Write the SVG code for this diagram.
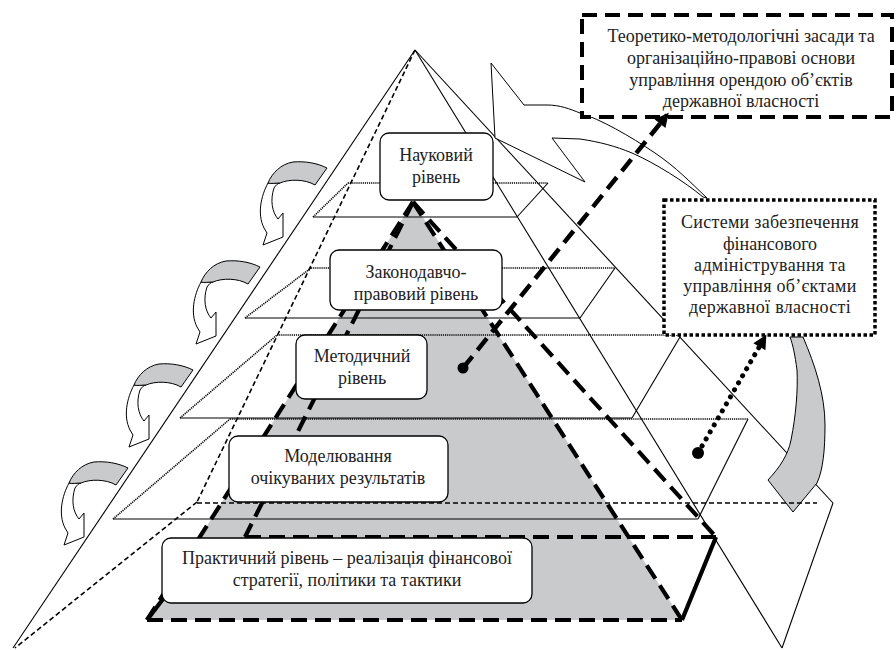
<svg xmlns="http://www.w3.org/2000/svg" xmlns:xlink="http://www.w3.org/1999/xlink" width="896" height="650" viewBox="0 0 896 650">
<style>
.thin{stroke:#000;stroke-width:1.1;fill:none}
.dot{stroke:#000;stroke-width:1.6;stroke-dasharray:1.2 0.9;fill:none}
.hid{stroke:#000;stroke-width:1.6;stroke-dasharray:5 3;fill:none}
.thick{stroke:#000;stroke-width:4.2;stroke-dasharray:16 8;fill:none}
.thicks{stroke:#000;stroke-width:4.2;fill:none}
.box{fill:#fff;stroke:#000;stroke-width:1.3}
.t{font-family:"Liberation Serif","Times New Roman",serif;font-size:18px;fill:#222;text-anchor:middle}
.gray{fill:#c9cacc;stroke:#000;stroke-width:1}
.white{fill:#fff;stroke:#000;stroke-width:1}
</style>
<defs>
<marker id="ah" viewBox="0 0 10 10" refX="8" refY="5" markerUnits="userSpaceOnUse" markerWidth="16" markerHeight="14" orient="auto">
<path d="M0,0 L10,5 L0,10 Z" fill="#000"/>
</marker>
<g id="curl">
<path class="white" d="M-59,15 C-66,28 -70,46 -63,60 L-60,65 L-64,77 L-44,69 L-44,45 L-49,51 C-55,44 -57,32 -53,20 C-51,17 -49,15 -47,15 Z"/>
<path class="gray" d="M0,0 C-10,-5 -22,-7 -34,-6 C-46,-4 -55,5 -59,15 C-56,16 -51,15 -47,15 C-38,11 -22,11 -12,17 Z"/>
</g>
</defs>
<rect width="896" height="650" fill="#fff"/>

<g id="inner-pyramid-fill">
<polygon points="413,202 147,620 682,620" fill="#c9cacc"/>
</g>

<g id="wireframe">
<line class="thin" x1="415" y1="50" x2="13" y2="648"/>
<line class="thin" x1="415" y1="50" x2="782" y2="648"/>
<line class="thin" x1="415" y1="50" x2="833" y2="503"/>
<line class="hid" x1="415" y1="50" x2="197" y2="502"/>
<line class="hid" x1="197" y1="502" x2="15" y2="648"/>
<line class="thin" x1="833" y1="503" x2="782" y2="648"/>
<line class="thin" x1="313" y1="217" x2="517" y2="217"/>
<line class="dot" x1="348" y1="183" x2="548" y2="183"/>
<line class="dot" x1="313" y1="217" x2="348" y2="183"/>
<line class="thin" x1="548" y1="183" x2="517" y2="217"/>
<line class="thin" x1="245" y1="318" x2="580" y2="318"/>
<line class="dot" x1="311" y1="268" x2="615" y2="268"/>
<line class="dot" x1="245" y1="318" x2="311" y2="268"/>
<line class="thin" x1="615" y1="268" x2="580" y2="318"/>
<line class="thin" x1="180" y1="418" x2="632" y2="418"/>
<line class="dot" x1="277" y1="335" x2="680" y2="335"/>
<line class="dot" x1="180" y1="418" x2="277" y2="335"/>
<line class="thin" x1="680" y1="337" x2="632" y2="418"/>
<line class="thin" x1="113" y1="519" x2="698" y2="519"/>
<line class="dot" x1="230" y1="419" x2="748" y2="419"/>
<line class="dot" x1="113" y1="519" x2="230" y2="419"/>
<line class="thin" x1="748" y1="419" x2="698" y2="519"/>
</g>

<g id="inner-pyramid-edges">
<line class="thick" x1="413" y1="202" x2="147" y2="620"/>
<line class="thick" x1="413" y1="202" x2="682" y2="620"/>
<line class="thick" x1="147" y1="620" x2="682" y2="620"/>
<line class="thick" x1="413" y1="202" x2="245" y2="537"/>
<line class="thick" x1="413" y1="202" x2="716" y2="537"/>
<line class="thick" x1="245" y1="537" x2="716" y2="537"/>
<line class="thicks" x1="682" y1="620" x2="716" y2="537"/>
<line class="thicks" x1="147" y1="620" x2="163" y2="599"/>
</g>

<g id="level-science">
<rect class="box" x="380" y="133" width="113" height="67" rx="9"/>
<text class="t" x="436" y="161">Науковий</text>
<text class="t" x="436" y="183">рівень</text>
</g>
<g id="level-legal">
<rect class="box" x="330" y="250" width="172" height="60" rx="9"/>
<text class="t" x="416" y="278">Законодавчо-</text>
<text class="t" x="416" y="300">правовий рівень</text>
</g>
<g id="level-method">
<rect class="box" x="296" y="335" width="131" height="64" rx="9"/>
<text class="t" x="362" y="362">Методичний</text>
<text class="t" x="362" y="384">рівень</text>
</g>
<g id="level-model">
<rect class="box" x="229" y="436" width="219" height="66" rx="9"/>
<text class="t" x="338" y="462">Моделювання</text>
<text class="t" x="338" y="484">очікуваних результатів</text>
</g>
<g id="level-practice">
<rect class="box" x="162" y="538" width="370" height="65" rx="9"/>
<text class="t" x="347" y="564">Практичний рівень – реалізація фінансової</text>
<text class="t" x="347" y="586">стратегії, політики та тактики</text>
</g>

<g id="curls">
<use xlink:href="#curl" transform="translate(327,168)"/>
<use xlink:href="#curl" transform="translate(260,267)"/>
<use xlink:href="#curl" transform="translate(193,370)"/>
<use xlink:href="#curl" transform="translate(128,468)"/>
</g>

<g id="big-arrow">
<path class="white" d="M707,198 C690,182 677,168 655,153 C630,136 600,119 580,113 C570,109 560,105 547,105 L524,105 L491,63 L495,138 L585,182 L552,138 L580,139 C600,142 615,146 632,153 C655,163 685,182 703,197 Z"/>
</g>

<g id="side-arrow">
<path class="gray" d="M790,337 L803,337 C815,365 825,395 825,425 C825,450 823,470 817,483 L793,512 L768,480 C780,467 788,455 791,440 C796,415 798,390 797,370 C795,355 793,345 790,337 Z"/>
</g>

<line class="hid" x1="197" y1="503" x2="817" y2="503"/>

<g id="theory-box">
<rect x="582" y="15" width="310" height="102" fill="#fff" stroke="#000" stroke-width="4" stroke-dasharray="15 8"/>
<text class="t" x="741" y="42">Теоретико-методологічні засади та</text>
<text class="t" x="741" y="64">організаційно-правові основи</text>
<text class="t" x="741" y="86">управління орендою об’єктів</text>
<text class="t" x="741" y="107">державної власності</text>
</g>

<g id="systems-box">
<rect x="664" y="200" width="211" height="135" fill="#fff" stroke="#000" stroke-width="3.5" stroke-dasharray="3.5 2.5"/>
<text class="t" x="770" y="228" letter-spacing="0.3">Системи забезпечення</text>
<text class="t" x="770" y="250">фінансового</text>
<text class="t" x="770" y="271" letter-spacing="0.3">адміністрування та</text>
<text class="t" x="770" y="292" letter-spacing="0.3">управління об’єктами</text>
<text class="t" x="770" y="313" letter-spacing="0.3">державної власності</text>
</g>

<g id="connectors">
<circle cx="463" cy="368" r="5.5" fill="#000"/>
<line x1="463" y1="368" x2="667" y2="115" stroke="#000" stroke-width="4.5" stroke-dasharray="15 8" marker-end="url(#ah)"/>
<circle cx="698" cy="453" r="6" fill="#000"/>
<line x1="698" y1="453" x2="765" y2="337" stroke="#000" stroke-width="5" stroke-dasharray="0.1 8" stroke-linecap="round" marker-end="url(#ah)"/>
</g>
</svg>
